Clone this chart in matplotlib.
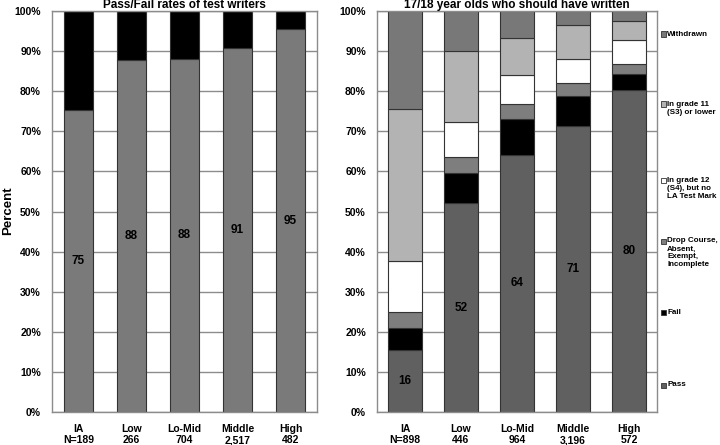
import matplotlib
matplotlib.use("Agg")
import matplotlib.pyplot as plt
from matplotlib.patches import Rectangle
import numpy as np

plt.rcParams['font.family'] = ['Liberation Sans', 'DejaVu Sans']

# ---- data ----
groups = ["IA", "Low", "Lo-Mid", "Middle", "High"]
left_n = ["N=189", "266", "704", "2,517", "482"]
right_n = ["N=898", "446", "964", "3,196", "572"]

left_pass = [75.2, 87.8, 88.1, 90.7, 95.5]
left_fail = [24.8, 12.2, 11.9, 9.3, 4.5]
left_labels = ["75", "88", "88", "91", "95"]

r_pass = [15.5, 52.0, 64.2, 71.3, 80.2]
r_fail = [5.4, 7.7, 8.8, 7.5, 4.0]
r_drop = [4.0, 3.8, 3.9, 3.2, 2.7]
r_g12 = [12.7, 8.7, 7.2, 6.0, 5.8]
r_g11 = [38.0, 17.9, 9.2, 8.4, 4.7]
r_withdrawn = [24.4, 9.9, 6.7, 3.6, 2.6]
right_labels = ["16", "52", "64", "71", "80"]

legend_labels = ["Withdrawn", "In grade 11\n(S3) or lower",
                 "In grade 12\n(S4), but no\nLA Test Mark",
                 "Drop Course,\nAbsent,\nExempt,\nIncomplete",
                 "Fail", "Pass"]

# ---- styles ----
c_pass_l = "#7a7a7a"
c_pass_r = "#606060"
c_fail = "#000000"
c_drop = "#7e7e7e"
c_g12 = "#ffffff"
c_g11 = "#b3b3b3"
c_with = "#787878"
edge = "#333333"
grid_c = "#8c8c8c"

fig = plt.figure(figsize=(7.2, 4.45), dpi=100)
axL = fig.add_axes([52/720, 1-412/445, 265/720, 401/445])
axR = fig.add_axes([377/720, 1-412/445, 280/720, 401/445])

x = np.arange(len(groups))

def style(ax, ticklabels, title):
    ax.set_ylim(0, 100)
    ax.set_xlim(-0.5, len(groups)-0.5)
    ax.set_yticks(np.arange(0, 101, 10))
    ax.set_yticklabels([f"{v}%" for v in range(0, 101, 10)],
                       fontsize=7.5, fontweight='bold')
    ax.set_xticks(x)
    ax.set_xticklabels([f"{g}\n{n}" for g, n in zip(groups, ticklabels)],
                       fontsize=7.5, fontweight='bold', linespacing=1.2)
    ax.tick_params(axis='y', length=0, pad=8)
    ax.tick_params(axis='x', length=0, pad=8.5)
    ax.yaxis.grid(True, color=grid_c, linewidth=1)
    ax.set_axisbelow(True)
    for s in ax.spines.values():
        s.set_color(grid_c)
        s.set_linewidth(1)
    ax.set_title(title, fontsize=8.5, fontweight='bold', pad=-1.5)

# left chart
wL = 0.56
axL.bar(x, left_pass, width=wL, color=c_pass_l, edgecolor=edge, linewidth=0.8, zorder=2)
axL.bar(x, left_fail, bottom=left_pass, width=wL, color=c_fail, edgecolor=edge, linewidth=0.8, zorder=2)
for xi, p, lab in zip(x, left_pass, left_labels):
    axL.text(xi, p/2, lab, ha='center', va='center', fontsize=8.5, fontweight='bold')
style(axL, left_n, "Pass/Fail rates of test writers")
fig.text(8/720, 1-211/445, "Percent", rotation=90, ha='center', va='center',
         fontsize=9.5, fontweight='bold')

# right chart
wR = 0.61
stack = [(r_pass, c_pass_r), (r_fail, c_fail), (r_drop, c_drop),
         (r_g12, c_g12), (r_g11, c_g11), (r_withdrawn, c_with)]
bottom = np.zeros(len(groups))
for vals, col in stack:
    axR.bar(x, vals, bottom=bottom, width=wR, color=col, edgecolor=edge, linewidth=0.8, zorder=2)
    bottom = bottom + np.array(vals)
for xi, p, lab in zip(x, r_pass, right_labels):
    axR.text(xi, p/2, lab, ha='center', va='center', fontsize=8.5, fontweight='bold')
style(axR, right_n, "17/18 year olds who should have written")

# legend on the right side
leg_cols = [c_with, c_g11, c_g12, c_drop, c_fail, c_pass_r]
leg_y = [34, 104, 180, 241, 312, 385]
for lab, col, yy in zip(legend_labels, leg_cols, leg_y):
    fy = 1 - yy/445
    fig.patches.append(Rectangle((661/720, fy - 2.5/445), 5/720, 5/445,
                                 transform=fig.transFigure, facecolor=col,
                                 edgecolor=edge, linewidth=0.6))
    fig.text(667/720, 1 - (yy - 3.5)/445, lab, ha='left', va='top', fontsize=5.8,
             fontweight='bold', linespacing=1.2,
             transform=fig.transFigure)

fig.savefig("out.png", dpi=100)
